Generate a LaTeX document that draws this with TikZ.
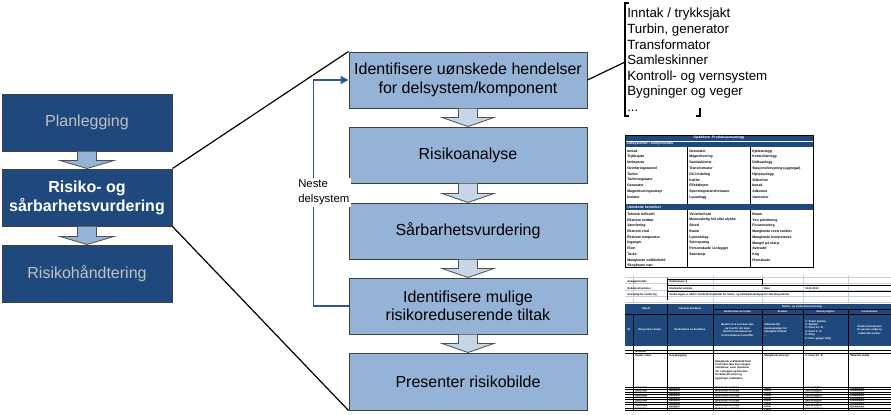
\documentclass[tikz,border=0pt]{standalone}
\usepackage{fontspec}
\setmainfont{Liberation Sans}
\usetikzlibrary{calc,arrows.meta}
\definecolor{dkblue}{HTML}{1F497D}
\definecolor{mdblue}{HTML}{95B3D7}
\definecolor{ltblue}{HTML}{C6D5E8}
\definecolor{lnblue}{HTML}{2C5697}
\definecolor{gridgray}{HTML}{C8D0DC}
\definecolor{lbtext}{HTML}{C0C0C0}
\definecolor{boxedge}{HTML}{404040}
\definecolor{arrowedge}{HTML}{505050}
\newcommand{\blkarrow}[5]{%
  \draw[draw=arrowedge, fill=#3, line width=0.6pt]
    ($(#1.south)+(-9.5,0)$) -- ($(#2.north)+(-9.5,-#5)$) -- ($(#2.north)+(-#4,-#5)$)
    -- (#2.north) -- ($(#2.north)+(#4,-#5)$) -- ($(#2.north)+(9.5,-#5)$) -- ($(#1.south)+(9.5,0)$);}
\begin{document}
\begin{tikzpicture}[x=0.75pt,y=-0.75pt,
  lbox/.style={draw=boxedge, line width=0.75pt, fill=dkblue, minimum width=127.5pt,
    minimum height=42.75pt, align=center, inner sep=0pt, font=\fontsize{12}{14.3}\selectfont},
  mbox/.style={draw=boxedge, line width=0.75pt, fill=mdblue, minimum width=178.5pt,
    minimum height=42pt, align=center, inner sep=0pt, font=\fontsize{12}{13.8}\selectfont},
  zline/.style={black, line width=0.9pt},
  fb/.style={lnblue, line width=1pt},
  tiny/.style={font=\fontsize{2.6}{3.2}\selectfont\bfseries, inner sep=0pt, anchor=west},
  tinyw/.style={tiny, text=white},
  mini/.style={font=\fontsize{2}{2.6}\selectfont\bfseries, inner sep=0pt, anchor=west},
  miniw/.style={mini, text=white, align=left},
  minic/.style={mini, anchor=center, align=center, text=white},
]
\useasboundingbox (0,0) rectangle (891,414);

% ---------- left column ----------
\node[lbox, text=lbtext] (plan) at (87,122.5) {Planlegging};
\node[lbox, text=white, font=\fontsize{12}{14.3}\selectfont\bfseries] (ros) at (87,197.5) {Risiko- og\\sårbarhetsvurdering};
\node[lbox, text=lbtext] (rh) at (87,273.5) {Risikohåndtering};
\blkarrow{plan}{ros}{mdblue}{27}{8}
\blkarrow{ros}{rh}{mdblue}{27}{8}

% ---------- middle column ----------
\node[mbox] (m1) at (468,80) {Identifisere uønskede hendelser\\for delsystem/komponent};
\node[mbox] (m2) at (468,155) {Risikoanalyse};
\node[mbox] (m3) at (468,231) {Sårbarhetsvurdering};
\node[mbox] (m4) at (468,306) {Identifisere mulige\\risikoreduserende tiltak};
\node[mbox, minimum height=42.75pt] (m5) at (468,381.5) {Presenter risikobilde};
\blkarrow{m1}{m2}{ltblue}{26}{9}
\blkarrow{m2}{m3}{ltblue}{26}{9}
\blkarrow{m3}{m4}{ltblue}{26}{9}
\blkarrow{m4}{m5}{ltblue}{26}{9}

% feedback loop
\draw[fb, -{Triangle[length=6pt,width=6pt]}] (m4.west) -- ++(-35,0) |- (m1.west);
\node[fill=white, align=left, inner sep=1.5pt, anchor=west, font=\fontsize{8.5}{11.25}\selectfont] (neste) at (296,192.5) {Neste\\delsystem};

% zoom lines
\draw[zline] (ros.north east) -- (m1.north west);
\draw[zline] (ros.south east) -- (m5.south west);

% ---------- component list ----------
\node[anchor=north west, align=left, inner sep=0pt, font=\fontsize{10}{11.7}\selectfont] (list) at (627,8) {Inntak / trykksjakt\\Turbin, generator\\Transformator\\Samleskinner\\Kontroll- og vernsystem\\Bygninger og veger\\...};
\coordinate (brtl) at (625,3);
\coordinate (brbl) at (625,116);
\coordinate (lhook) at (625,62);
\draw[line width=0.8pt] ($(brtl)+(4,0)$) -- (brtl) -- (brbl) -- ($(brbl)+(4,0)$);
\draw[line width=0.8pt] (700,108) -- (700,116) -- (696,116);
\draw[zline] (m1.east) -- (lhook);

% ---------- table 1 (checklist) ----------
\fill[dkblue] (625,135) rectangle (813,147);
\draw[white, line width=0.3pt] (625,141) -- (813,141);
\fill[dkblue] (625,204) rectangle (813,210);
\draw[line width=0.6pt] (625,135) rectangle (813,267);
\foreach \xx in {687,750} {
  \draw[line width=0.6pt] (\xx,147) -- (\xx,204);
  \draw[line width=0.6pt] (\xx,210) -- (\xx,267);
}
\node[tiny, anchor=center, text=white] (t1h) at (719,138) {Sjekkliste: Produksjonsanlegg};
\node[tinyw] (t1s1) at (627,144) {Delsystemer / Komponenter};
\node[tinyw] (t1s2) at (627,207) {Uønskede hendelser};
\foreach \t [count=\i] in {Inntak,Trykksjakt,Innløpsrør,Overføringstunnel,Turbin,Turbinregulator,Generator,Magnetiseringsutstyr,Isolator}
  \node[tiny] (t1a\i) at (627,{145.5+\i*5.75}) {\t};
\foreach \t [count=\i] in {Generator,Magnetisering,Samleskinner,Transformator,DC-fordeling,Kabler,Effektbryter,Spenningstransformator,Lysanlegg}
  \node[tiny] (t1b\i) at (689,{145.5+\i*5.75}) {\t};
\foreach \t [count=\i] in {Kjøleanlegg,Kontrollanlegg,Driftsanlegg,Stasjonsforsyning (aggregat),Hjelpeanlegg,Sikkerhet,Inntak,Adkomst,Vannveier}
  \node[tiny] (t1c\i) at (752,{145.5+\i*5.75}) {\t};
\foreach \t [count=\i] in {Teknisk feil/svikt,Ekstrem nedbør,Vannføring,Ekstrem vind,Ekstrem temperatur,Isganger,Flom,Tørke,Manglende vedlikehold,Skogbrann nær}
  \node[tiny] (t1d\i) at (627,{208.5+\i*5.75}) {\t};
\foreach \t [count=\i] in {Vinterforhold,Menneskelig feil eller ulykke,Skred,Brann,Lynnedslag,Steinsprang,Personskade i anlegget,Sabotasje}
  \node[tiny] (t1e\i) at (689,{208.5+\i*5.75}) {\t};
\foreach \t [count=\i] in {Brann,Ytre påvirkning,Forurensning,Manglende reservedeler,Manglende kompetanse,Mangel på utstyr,Avbrudd,Krig,Flomskade}
  \node[tiny] (t1f\i) at (752,{208.5+\i*5.75}) {\t};

% ---------- table 2 (risk analysis sheet) ----------
\foreach \yy in {277,283,290,296,302}
  \draw[gridgray, line width=0.6pt] (625,\yy) -- (891,\yy);
\foreach \xx in {633,713,762,803,848}
  \draw[gridgray, line width=0.6pt] (\xx,275) -- (\xx,302);
\draw[line width=0.6pt] (667,278) -- (667,300);
\draw[line width=0.6pt] (667,279) -- (762,279);
\draw[line width=0.6pt] (762,279) -- (762,285);
\draw[line width=0.6pt] (667,285) -- (891,285);
\draw[line width=0.6pt] (667,291) -- (891,291);
\node[mini] (t2l1) at (627,282) {Anlegg/område};
\node[mini] (t2l2) at (627,288.5) {Dokumentnummer};
\node[mini] (t2l3) at (627,295) {Ansvarlig for vurdering};
\node[mini] (t2v1) at (669,282) {Kraftstasjon X};
\node[mini] (t2v2) at (669,288.5) {Utarbeidet av/dato};
\node[mini] (t2v3) at (764,288.5) {Dato};
\node[mini] (t2v4) at (805,288.5) {01.01.2010};
\node[mini] (t2v5) at (669,295) {Vurderingen er utført i henhold til veileder for risiko- og sårbarhetsanalyse for alle delsystemer};

\fill[dkblue] (625,304) rectangle (891,346);
\draw[line width=0.6pt] (625,314) -- (891,314);
\draw[line width=0.6pt] (713,309) -- (891,309);
\foreach \xx in {667,713} \draw[line width=0.6pt] (\xx,304) -- (\xx,346);
\foreach \xx in {762,803,848} \draw[line width=0.6pt] (\xx,309) -- (\xx,346);
\draw[line width=0.6pt] (633,314) -- (633,346);
\node[minic] (h1) at (646,309) {Objekt};
\node[minic] (h2) at (690,309) {Uønsket hendelse};
\node[minic] (h3) at (802,306.5) {Risiko- og sårbarhetsvurdering};
\node[minic] (h4) at (737.5,311.5) {Beskrivelse av forløp};
\node[minic] (h5) at (782.5,311.5) {Årsaker};
\node[minic] (h6) at (825.5,311.5) {Sannsynlighet};
\node[minic] (h7) at (869.5,311.5) {Konsekvens};
\node[minic] (h8) at (629,330) {ID};
\node[minic] (h9) at (650,330) {Delsystem / komp.};
\node[minic] (h10) at (690,330) {Beskrivelse av hendelse};
\node[minic] (h11) at (737.5,330) {Beskriv hva som kan skje\\og hvorfor det skjer\\Hva blir konsekvensen\\hvis hendelsen inntreffer};
\node[miniw] (h12) at (764,330) {Tekniske feil\\menneskelige feil\\naturgitte forhold\\--};
\node[miniw] (h13) at (805,330) {1: Svært sjelden\\2: Sjelden\\3: Hvert 10. år\\4: Hvert 5. år\\5: Årlig\\6: Flere ganger årlig};
\node[minic] (h14) at (869.5,330) {Vurder konsekvens\\for person, miljø og\\materielle verdier};

% data rows
\foreach \yy in {350,353,387,389.5,392,394.5,397,399.5,402,404.5,408,410}
  \draw[line width=0.6pt] (625,\yy) -- (891,\yy);
\foreach \xx in {633,667,713,762,803,848}
  \draw[line width=0.6pt] (\xx,346) -- (\xx,411);
\node[mini] (d1) at (635,351.5) {Generelt};
\node[mini] (d2) at (635,355.5) {Inntak / luker};
\node[mini] (d3) at (669,355.5) {Isoppbygging};
\node[mini, align=left] (d4) at (715,370) {Manglende vedlikehold fører\\til at luken ikke kan stenges\\ved behov; vann strømmer\\inn i anlegget og kan føre\\til skade på utstyr og\\bygninger nedstrøms};
\node[mini] (d5) at (764,355.5) {Manglende ettersyn};
\node[mini] (d6) at (805,355.5) {3: Hvert 10. år};
\node[mini] (d7) at (850,355.5) {Materiell skade};
\foreach \yy [count=\i] in {388.2,390.7,393.2,395.7,398.2,400.7,403.2,406.2,409}{
  \node[mini, font=\fontsize{1.8}{2}\selectfont\bfseries] (e\i a) at (635,\yy) {Delsystem};
  \node[mini, font=\fontsize{1.8}{2}\selectfont\bfseries] (e\i b) at (669,\yy) {Hendelse};
  \node[mini, font=\fontsize{1.8}{2}\selectfont\bfseries] (e\i c) at (715,\yy) {Beskrivelse av forløp};
  \node[mini, font=\fontsize{1.8}{2}\selectfont\bfseries] (e\i d) at (764,\yy) {Årsak};
  \node[mini, font=\fontsize{1.8}{2}\selectfont\bfseries] (e\i e) at (805,\yy) {Sannsynlighet};
  \node[mini, font=\fontsize{1.8}{2}\selectfont\bfseries] (e\i f) at (850,\yy) {Konsekvens};
}
\end{tikzpicture}
\end{document}
